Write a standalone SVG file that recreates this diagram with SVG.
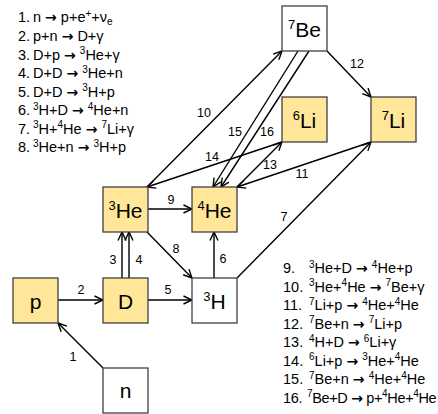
<svg xmlns="http://www.w3.org/2000/svg" width="438" height="414" viewBox="0 0 438 414">
<style>
.box{stroke:#404040;stroke-width:1.3}
.y{fill:#FFE699}
.w{fill:#FFFFFF}
.bt{font-family:"Liberation Sans",Arial,sans-serif;font-size:21px;fill:#000;text-anchor:middle}
.lbl{font-family:"Liberation Sans",Arial,sans-serif;font-size:12.5px;fill:#000;text-anchor:middle}
.leg{font-family:"Liberation Sans",Arial,sans-serif;font-size:14.5px;fill:#000}
.leg .s{font-size:10px}
.leg .a{font-family:"DejaVu Sans",sans-serif;font-weight:bold;font-size:14px}
.con line{stroke:#000;stroke-width:1.4;marker-end:url(#ah)}
</style>
<defs>
<marker id="ah" viewBox="0 0 10 10" refX="9.5" refY="5" markerWidth="10" markerHeight="10" markerUnits="userSpaceOnUse" orient="auto">
<path d="M1,1 L9.5,5 L1,9" fill="none" stroke="#000" stroke-width="1.4"/>
</marker>
</defs>
<rect width="438" height="414" fill="#fff"/>
<g id="connectors" class="con">
<line x1="103" y1="368" x2="58" y2="323"/>
<line x1="58" y1="300" x2="103" y2="300"/>
<line x1="122" y1="278" x2="122" y2="232"/>
<line x1="129" y1="278" x2="129" y2="232"/>
<line x1="147" y1="300" x2="192" y2="300"/>
<line x1="214" y1="278" x2="214" y2="232"/>
<line x1="237" y1="278" x2="371" y2="142"/>
<line x1="147" y1="232" x2="192" y2="278"/>
<line x1="147" y1="209" x2="192" y2="209"/>
<line x1="147" y1="187" x2="282" y2="51"/>
<line x1="371" y1="142" x2="237" y2="187"/>
<line x1="327" y1="51" x2="371" y2="97"/>
<line x1="237" y1="187" x2="282" y2="142"/>
<line x1="282" y1="142" x2="147" y2="187"/>
<line x1="298" y1="51" x2="213" y2="187"/>
<line x1="309" y1="51" x2="221" y2="187"/>
</g>
<g id="connector-labels" class="lbl">
<text x="73" y="361">1</text>
<text x="81" y="294">2</text>
<text x="113" y="264">3</text>
<text x="139" y="264">4</text>
<text x="168" y="294">5</text>
<text x="223" y="263">6</text>
<text x="284" y="221">7</text>
<text x="176" y="253">8</text>
<text x="171" y="204">9</text>
<text x="204" y="117">10</text>
<text x="302" y="178">11</text>
<text x="357" y="68">12</text>
<text x="270" y="169">13</text>
<text x="212" y="161">14</text>
<text x="235" y="136">15</text>
<text x="267" y="136">16</text>
</g>
<g id="node-p"><rect class="box y" x="13" y="278" width="45" height="45"/><text class="bt" x="35.5" y="309">p</text></g>
<g id="node-D"><rect class="box y" x="103" y="278" width="45" height="45"/><text class="bt" x="125.5" y="309">D</text></g>
<g id="node-3H"><rect class="box w" x="192" y="278" width="45" height="45"/><text class="bt" x="214.5" y="309"><tspan font-size="13" dy="-8">3</tspan><tspan dy="8">H</tspan></text></g>
<g id="node-n"><rect class="box w" x="103" y="368" width="45" height="45"/><text class="bt" x="125.5" y="398">n</text></g>
<g id="node-3He"><rect class="box y" x="103" y="187" width="45" height="45"/><text class="bt" x="125.5" y="218"><tspan font-size="13" dy="-8">3</tspan><tspan dy="8">He</tspan></text></g>
<g id="node-4He"><rect class="box y" x="192" y="187" width="45" height="45"/><text class="bt" x="214.5" y="218"><tspan font-size="13" dy="-8">4</tspan><tspan dy="8">He</tspan></text></g>
<g id="node-6Li"><rect class="box y" x="282" y="97" width="45" height="45"/><text class="bt" x="304.5" y="128"><tspan font-size="13" dy="-8">6</tspan><tspan dy="8">Li</tspan></text></g>
<g id="node-7Li"><rect class="box y" x="371" y="97" width="45" height="45"/><text class="bt" x="393.5" y="128"><tspan font-size="13" dy="-8">7</tspan><tspan dy="8">Li</tspan></text></g>
<g id="node-7Be"><rect class="box w" x="282" y="6" width="45" height="45"/><text class="bt" x="304.5" y="37"><tspan font-size="13" dy="-8">7</tspan><tspan dy="8">Be</tspan></text></g>
<g id="legend-left" class="leg">
<text y="22"><tspan x="18">1.</tspan><tspan x="33">n </tspan><tspan class="a">→</tspan><tspan> p+e</tspan><tspan class="s" dy="-5.5">+</tspan><tspan dy="5.5">+ν</tspan><tspan class="s" dy="3">e</tspan></text>
<text y="41"><tspan x="18">2.</tspan><tspan x="33">p+n </tspan><tspan class="a">→</tspan><tspan> D+γ</tspan></text>
<text y="59.5"><tspan x="18">3.</tspan><tspan x="33">D+p </tspan><tspan class="a">→</tspan><tspan> </tspan><tspan class="s" dy="-5.5">3</tspan><tspan dy="5.5">He+γ</tspan></text>
<text y="78"><tspan x="18">4.</tspan><tspan x="33">D+D </tspan><tspan class="a">→</tspan><tspan> </tspan><tspan class="s" dy="-5.5">3</tspan><tspan dy="5.5">He+n</tspan></text>
<text y="96.5"><tspan x="18">5.</tspan><tspan x="33">D+D </tspan><tspan class="a">→</tspan><tspan> </tspan><tspan class="s" dy="-5.5">3</tspan><tspan dy="5.5">H+p</tspan></text>
<text y="115"><tspan x="18">6.</tspan><tspan x="33" class="s" dy="-5.5">3</tspan><tspan dy="5.5">H+D </tspan><tspan class="a">→</tspan><tspan> </tspan><tspan class="s" dy="-5.5">4</tspan><tspan dy="5.5">He+n</tspan></text>
<text y="133.5"><tspan x="18">7.</tspan><tspan x="33" class="s" dy="-5.5">3</tspan><tspan dy="5.5">H+</tspan><tspan class="s" dy="-5.5">4</tspan><tspan dy="5.5">He </tspan><tspan class="a">→</tspan><tspan> </tspan><tspan class="s" dy="-5.5">7</tspan><tspan dy="5.5">Li+γ</tspan></text>
<text y="152"><tspan x="18">8.</tspan><tspan x="33" class="s" dy="-5.5">3</tspan><tspan dy="5.5">He+n </tspan><tspan class="a">→</tspan><tspan> </tspan><tspan class="s" dy="-5.5">3</tspan><tspan dy="5.5">H+p</tspan></text>
</g>
<g id="legend-right" class="leg">
<text y="273"><tspan x="283">9.</tspan><tspan x="309" class="s" dy="-5.5">3</tspan><tspan dy="5.5">He+D </tspan><tspan class="a">→</tspan><tspan> </tspan><tspan class="s" dy="-5.5">4</tspan><tspan dy="5.5">He+p</tspan></text>
<text y="291.5"><tspan x="283">10.</tspan><tspan x="309" class="s" dy="-5.5">3</tspan><tspan dy="5.5">He+</tspan><tspan class="s" dy="-5.5">4</tspan><tspan dy="5.5">He </tspan><tspan class="a">→</tspan><tspan> </tspan><tspan class="s" dy="-5.5">7</tspan><tspan dy="5.5">Be+γ</tspan></text>
<text y="310"><tspan x="283">11.</tspan><tspan x="309" class="s" dy="-5.5">7</tspan><tspan dy="5.5">Li+p </tspan><tspan class="a">→</tspan><tspan> </tspan><tspan class="s" dy="-5.5">4</tspan><tspan dy="5.5">He+</tspan><tspan class="s" dy="-5.5">4</tspan><tspan dy="5.5">He</tspan></text>
<text y="328.5"><tspan x="283">12.</tspan><tspan x="309" class="s" dy="-5.5">7</tspan><tspan dy="5.5">Be+n </tspan><tspan class="a">→</tspan><tspan> </tspan><tspan class="s" dy="-5.5">7</tspan><tspan dy="5.5">Li+p</tspan></text>
<text y="347"><tspan x="283">13.</tspan><tspan x="309" class="s" dy="-5.5">4</tspan><tspan dy="5.5">H+D </tspan><tspan class="a">→</tspan><tspan> </tspan><tspan class="s" dy="-5.5">6</tspan><tspan dy="5.5">Li+γ</tspan></text>
<text y="365.5"><tspan x="283">14.</tspan><tspan x="309" class="s" dy="-5.5">6</tspan><tspan dy="5.5">Li+p </tspan><tspan class="a">→</tspan><tspan> </tspan><tspan class="s" dy="-5.5">3</tspan><tspan dy="5.5">He+</tspan><tspan class="s" dy="-5.5">4</tspan><tspan dy="5.5">He</tspan></text>
<text y="384"><tspan x="283">15.</tspan><tspan x="309" class="s" dy="-5.5">7</tspan><tspan dy="5.5">Be+n </tspan><tspan class="a">→</tspan><tspan> </tspan><tspan class="s" dy="-5.5">4</tspan><tspan dy="5.5">He+</tspan><tspan class="s" dy="-5.5">4</tspan><tspan dy="5.5">He</tspan></text>
<text y="402.5" letter-spacing="-0.35"><tspan x="283">16.</tspan><tspan x="307" class="s" dy="-5.5">7</tspan><tspan dy="5.5">Be+D </tspan><tspan class="a">→</tspan><tspan> p+</tspan><tspan class="s" dy="-5.5">4</tspan><tspan dy="5.5">He+</tspan><tspan class="s" dy="-5.5">4</tspan><tspan dy="5.5">He</tspan></text>
</g>
</svg>
